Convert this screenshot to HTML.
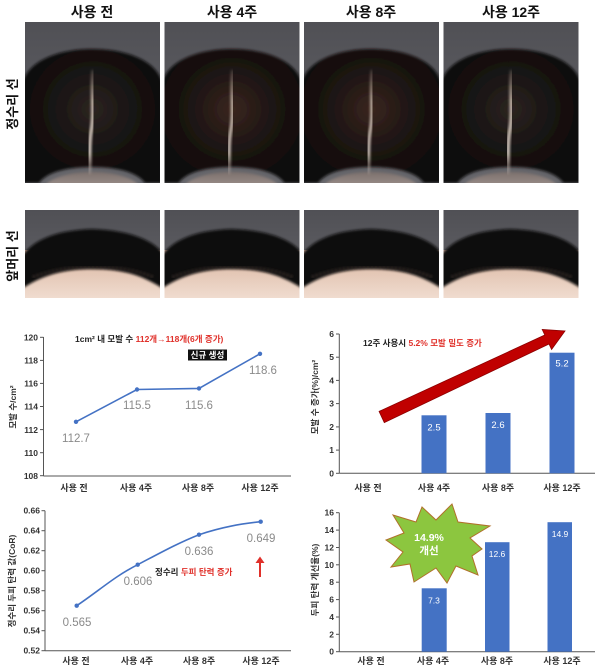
<!DOCTYPE html>
<html><head><meta charset="utf-8">
<style>
html,body{margin:0;padding:0;background:#fff;}
svg{display:block;font-family:"Liberation Sans","Noto Sans CJK KR",sans-serif;}
.t{font-weight:bold;font-size:14px;fill:#111;}
.rl{font-weight:bold;font-size:13px;fill:#111;}
.tk{font-weight:bold;font-size:8.5px;fill:#333;}
.cat{font-weight:bold;font-size:9px;fill:#333;}
.dl{font-size:11.5px;fill:#8a8a8a;}
.bl{font-size:9.5px;fill:#fff;}
.an{font-weight:bold;font-size:8.5px;}
.yt{font-weight:bold;font-size:8.5px;fill:#333;}
</style></head><body>
<svg width="600" height="669" viewBox="0 0 600 669" xmlns="http://www.w3.org/2000/svg">
<defs>
  <linearGradient id="bg" x1="0" y1="0" x2="0" y2="1">
    <stop offset="0" stop-color="#505055"/><stop offset="1" stop-color="#66666b"/>
  </linearGradient>
  <radialGradient id="hairA" cx="0.5" cy="0.45" r="0.6">
    <stop offset="0" stop-color="#2c2421"/><stop offset="0.5" stop-color="#171312"/><stop offset="1" stop-color="#0c0b0b"/>
  </radialGradient>
  <radialGradient id="hairB" cx="0.5" cy="0.45" r="0.6">
    <stop offset="0" stop-color="#3a261f"/><stop offset="0.5" stop-color="#1c1412"/><stop offset="1" stop-color="#0d0b0a"/>
  </radialGradient>
  <linearGradient id="part" x1="0" y1="0" x2="0" y2="1">
    <stop offset="0" stop-color="#cdb8a8" stop-opacity="0.2"/>
    <stop offset="0.3" stop-color="#e0d0c2" stop-opacity="0.85"/>
    <stop offset="0.8" stop-color="#ece0d6" stop-opacity="0.9"/>
    <stop offset="1" stop-color="#d8c8bc" stop-opacity="0.2"/>
  </linearGradient>
  <linearGradient id="skin" x1="0" y1="0" x2="0" y2="1">
    <stop offset="0" stop-color="#b99888"/><stop offset="0.4" stop-color="#e2c4b2"/><stop offset="1" stop-color="#f0dccf"/>
  </linearGradient>
  <linearGradient id="neck" x1="0" y1="0" x2="0" y2="1">
    <stop offset="0" stop-color="#7c706c"/><stop offset="1" stop-color="#cfc3bf"/>
  </linearGradient>
  <filter id="bl1"><feGaussianBlur stdDeviation="1.2"/></filter>
  <clipPath id="c1"><rect x="0" y="0" width="135" height="161"/></clipPath>
  <clipPath id="c2"><rect x="0" y="0" width="135" height="88"/></clipPath>
  <g id="topPhotoA">
    <g clip-path="url(#c1)">
      <rect x="0" y="0" width="135" height="161" fill="url(#bg)"/>
      <ellipse cx="67" cy="170" rx="50" ry="20" fill="url(#neck)" filter="url(#bl1)"/>
      <path d="M-2,161 L-2,60 C4,38 35,27 67,27 C100,27 131,38 137,60 L137,161 L120,161 C112,150 92,145 67,145 C42,145 22,150 14,161 Z" fill="url(#hairA)" filter="url(#bl1)"/>
      <path d="M68,48 C66,70 70,90 66,110 C63,128 66,140 64,152" stroke="url(#part)" stroke-width="3.5" fill="none" filter="url(#bl1)"/>
    </g>
  </g>
  <g id="topPhotoB">
    <g clip-path="url(#c1)">
      <rect x="0" y="0" width="135" height="161" fill="url(#bg)"/>
      <ellipse cx="67" cy="170" rx="50" ry="20" fill="url(#neck)" filter="url(#bl1)"/>
      <path d="M-2,161 L-2,60 C4,38 35,27 67,27 C100,27 131,38 137,60 L137,161 L120,161 C112,150 92,145 67,145 C42,145 22,150 14,161 Z" fill="url(#hairB)" filter="url(#bl1)"/>
      <path d="M68,48 C66,70 70,90 66,110 C63,128 66,140 64,152" stroke="url(#part)" stroke-width="3" fill="none" filter="url(#bl1)"/>
    </g>
  </g>
  <g id="botPhoto">
    <g clip-path="url(#c2)">
      <rect x="0" y="0" width="135" height="88" fill="url(#bg)"/>
      <rect x="0" y="40" width="135" height="48" fill="url(#skin)"/>
      <path d="M-2,45 C10,28 35,20 67,19 C100,20 125,28 137,42 L137,78 C115,64 95,59 67,59 C40,59 20,64 -2,78 Z" fill="#100e0e" filter="url(#bl1)"/>
      <path d="M8,67 C30,59 50,57 67,57 C88,57 108,59 128,67" stroke="#3a2e2a" stroke-width="3" fill="none" stroke-dasharray="2 2" filter="url(#bl1)"/>
    </g>
  </g>
</defs>

<!-- Column titles -->
<text class="t" x="92" y="17" text-anchor="middle">사용 전</text>
<text class="t" x="232" y="17" text-anchor="middle">사용 4주</text>
<text class="t" x="371" y="17" text-anchor="middle">사용 8주</text>
<text class="t" x="511" y="17" text-anchor="middle">사용 12주</text>

<!-- Row labels -->
<text class="rl" transform="translate(17,104) rotate(-90)" text-anchor="middle">정수리 선</text>
<text class="rl" transform="translate(17,256) rotate(-90)" text-anchor="middle">앞머리 선</text>

<!-- Top photos -->
<use href="#topPhotoA" x="25" y="22"/>
<use href="#topPhotoB" x="164.5" y="22"/>
<use href="#topPhotoB" x="304" y="22"/>
<use href="#topPhotoA" x="443.5" y="22"/>
<!-- Bottom photos -->
<use href="#botPhoto" x="25" y="210"/>
<use href="#botPhoto" x="164.5" y="210"/>
<use href="#botPhoto" x="304" y="210"/>
<use href="#botPhoto" x="443.5" y="210"/>

<!-- ========== Chart 1 ========== -->
<g stroke="#555" stroke-width="1">
  <line x1="43.5" y1="337" x2="43.5" y2="476"/>
  <line x1="43.5" y1="476" x2="291" y2="476"/>
  <line x1="40" y1="337.3" x2="43.5" y2="337.3"/>
  <line x1="40" y1="360.4" x2="43.5" y2="360.4"/>
  <line x1="40" y1="383.4" x2="43.5" y2="383.4"/>
  <line x1="40" y1="406.5" x2="43.5" y2="406.5"/>
  <line x1="40" y1="429.6" x2="43.5" y2="429.6"/>
  <line x1="40" y1="452.7" x2="43.5" y2="452.7"/>
  <line x1="40" y1="475.7" x2="43.5" y2="475.7"/>
</g>
<g class="tk" text-anchor="end">
  <text x="38" y="340.5">120</text>
  <text x="38" y="363.6">118</text>
  <text x="38" y="386.6">116</text>
  <text x="38" y="409.7">114</text>
  <text x="38" y="432.8">112</text>
  <text x="38" y="455.9">110</text>
  <text x="38" y="478.9">108</text>
</g>
<text class="yt" transform="translate(16,407) rotate(-90)" text-anchor="middle">모발 수/cm²</text>
<polyline points="76,421.8 137,389.5 199,388.4 260,353.8" fill="none" stroke="#4472c4" stroke-width="1.6"/>
<g fill="#4472c4">
  <circle cx="76" cy="421.8" r="2.2"/><circle cx="137" cy="389.5" r="2.2"/>
  <circle cx="199" cy="388.4" r="2.2"/><circle cx="260" cy="353.8" r="2.2"/>
</g>
<g class="dl" text-anchor="middle">
  <text x="76" y="442">112.7</text>
  <text x="137" y="409">115.5</text>
  <text x="199" y="409">115.6</text>
  <text x="263" y="374">118.6</text>
</g>
<text class="an" x="75" y="342"><tspan fill="#222">1cm² 내 모발 수 </tspan><tspan fill="#e0302a">112개→118개(6개 증가)</tspan></text>
<rect x="188" y="349.5" width="39" height="11" fill="#111"/>
<text class="an" x="207.5" y="358" fill="#fff" text-anchor="middle">신규 생성</text>
<g class="cat" text-anchor="middle">
  <text x="74" y="491">사용 전</text>
  <text x="136" y="491">사용 4주</text>
  <text x="198" y="491">사용 8주</text>
  <text x="260" y="491">사용 12주</text>
</g>

<!-- ========== Chart 2 ========== -->
<g stroke="#555" stroke-width="1">
  <line x1="339.3" y1="334" x2="339.3" y2="473.3"/>
  <line x1="339.3" y1="473.3" x2="595" y2="473.3"/>
  <line x1="336" y1="334" x2="339.3" y2="334"/>
  <line x1="336" y1="357.2" x2="339.3" y2="357.2"/>
  <line x1="336" y1="380.4" x2="339.3" y2="380.4"/>
  <line x1="336" y1="403.6" x2="339.3" y2="403.6"/>
  <line x1="336" y1="426.9" x2="339.3" y2="426.9"/>
  <line x1="336" y1="450.1" x2="339.3" y2="450.1"/>
  <line x1="336" y1="473.3" x2="339.3" y2="473.3"/>
</g>
<g class="tk" text-anchor="end">
  <text x="334" y="337">6</text>
  <text x="334" y="360.2">5</text>
  <text x="334" y="383.4">4</text>
  <text x="334" y="406.6">3</text>
  <text x="334" y="429.9">2</text>
  <text x="334" y="453.1">1</text>
  <text x="334" y="476.3">0</text>
</g>
<text class="yt" transform="translate(318,397) rotate(-90)" text-anchor="middle">모발 수 증가(%)/cm²</text>
<g fill="#4472c4">
  <rect x="421.5" y="415.3" width="25" height="58"/>
  <rect x="485.5" y="413" width="25" height="60.3"/>
  <rect x="549.5" y="352.7" width="25" height="120.6"/>
</g>
<g class="bl" text-anchor="middle">
  <text x="434" y="430.5">2.5</text>
  <text x="498" y="428">2.6</text>
  <text x="562" y="366.5">5.2</text>
</g>
<polygon points="379.1,411.4 544.8,335 542.2,329.5 565,331 551.6,349.5 549,344 384.3,422.6" fill="#c00000" stroke="#8b0000" stroke-width="0.8"/>
<text class="an" x="363" y="346"><tspan fill="#222">12주 사용시 </tspan><tspan fill="#e0302a">5.2% 모발 밀도 증가</tspan></text>
<g class="cat" text-anchor="middle">
  <text x="368" y="491">사용 전</text>
  <text x="434" y="491">사용 4주</text>
  <text x="498" y="491">사용 8주</text>
  <text x="562" y="491">사용 12주</text>
</g>

<!-- ========== Chart 3 ========== -->
<g stroke="#555" stroke-width="1">
  <line x1="45" y1="510.7" x2="45" y2="650.7"/>
  <line x1="45" y1="650.7" x2="291" y2="650.7"/>
  <line x1="41.5" y1="510.7" x2="45" y2="510.7"/>
  <line x1="41.5" y1="530.7" x2="45" y2="530.7"/>
  <line x1="41.5" y1="550.7" x2="45" y2="550.7"/>
  <line x1="41.5" y1="570.7" x2="45" y2="570.7"/>
  <line x1="41.5" y1="590.7" x2="45" y2="590.7"/>
  <line x1="41.5" y1="610.7" x2="45" y2="610.7"/>
  <line x1="41.5" y1="630.7" x2="45" y2="630.7"/>
  <line x1="41.5" y1="650.7" x2="45" y2="650.7"/>
</g>
<g class="tk" text-anchor="end">
  <text x="40" y="513.7">0.66</text>
  <text x="40" y="533.7">0.64</text>
  <text x="40" y="553.7">0.62</text>
  <text x="40" y="573.7">0.60</text>
  <text x="40" y="593.7">0.58</text>
  <text x="40" y="613.7">0.56</text>
  <text x="40" y="633.7">0.54</text>
  <text x="40" y="653.7">0.52</text>
</g>
<text class="yt" transform="translate(15,581) rotate(-90)" text-anchor="middle">정수리 두피 탄력 값(CoR)</text>
<path d="M76.7,605.7 C100,590 115,576 137.7,564.7 C160,553 178,543 199,534.7 C222,527 240,524 260.7,521.7" fill="none" stroke="#4472c4" stroke-width="1.6"/>
<g fill="#4472c4">
  <circle cx="76.7" cy="605.7" r="2.2"/><circle cx="137.7" cy="564.7" r="2.2"/>
  <circle cx="199" cy="534.7" r="2.2"/><circle cx="260.7" cy="521.7" r="2.2"/>
</g>
<g class="dl" text-anchor="middle">
  <text x="77" y="626">0.565</text>
  <text x="138" y="585">0.606</text>
  <text x="199" y="555">0.636</text>
  <text x="261" y="542">0.649</text>
</g>
<text class="an" x="155" y="575"><tspan fill="#222">정수리 </tspan><tspan fill="#e0302a">두피 탄력 증가</tspan></text>
<line x1="260" y1="577" x2="260" y2="562" stroke="#e0302a" stroke-width="2"/>
<polygon points="255.5,563 260,556.5 264.5,563" fill="#e0302a"/>
<g class="cat" text-anchor="middle">
  <text x="76" y="664">사용 전</text>
  <text x="137" y="664">사용 4주</text>
  <text x="199" y="664">사용 8주</text>
  <text x="261" y="664">사용 12주</text>
</g>

<!-- ========== Chart 4 ========== -->
<g stroke="#555" stroke-width="1">
  <line x1="339.3" y1="512.7" x2="339.3" y2="651.7"/>
  <line x1="339.3" y1="651.7" x2="595" y2="651.7"/>
  <line x1="336" y1="512.7" x2="339.3" y2="512.7"/>
  <line x1="336" y1="530.1" x2="339.3" y2="530.1"/>
  <line x1="336" y1="547.5" x2="339.3" y2="547.5"/>
  <line x1="336" y1="564.8" x2="339.3" y2="564.8"/>
  <line x1="336" y1="582.2" x2="339.3" y2="582.2"/>
  <line x1="336" y1="599.6" x2="339.3" y2="599.6"/>
  <line x1="336" y1="617" x2="339.3" y2="617"/>
  <line x1="336" y1="634.3" x2="339.3" y2="634.3"/>
  <line x1="336" y1="651.7" x2="339.3" y2="651.7"/>
</g>
<g class="tk" text-anchor="end">
  <text x="334" y="515.7">16</text>
  <text x="334" y="533.1">14</text>
  <text x="334" y="550.5">12</text>
  <text x="334" y="567.8">10</text>
  <text x="334" y="585.2">8</text>
  <text x="334" y="602.6">6</text>
  <text x="334" y="620">4</text>
  <text x="334" y="637.3">2</text>
  <text x="334" y="654.7">0</text>
</g>
<text class="yt" transform="translate(318,580) rotate(-90)" text-anchor="middle">두피 탄력 개선율(%)</text>
<g fill="#4472c4">
  <rect x="421.7" y="588.3" width="25" height="63.4"/>
  <rect x="485" y="542.2" width="24.5" height="109.5"/>
  <rect x="547.5" y="522.2" width="24.5" height="129.5"/>
</g>
<g class="bl" text-anchor="middle" style="font-size:8.5px">
  <text x="434" y="603.5">7.3</text>
  <text x="497" y="557">12.6</text>
  <text x="560" y="537">14.9</text>
</g>
<polygon points="452,504 458,522 490,526 470,538 482,549 472,556 478,575 456,566 447,583 436,568 414,582 410,564 391,567 403,552 386,540 404,533 393,515 416,522 422,507 436,520" fill="#8cc63f" stroke="#b0702a" stroke-width="1"/>
<text x="429" y="541" text-anchor="middle" style="font-weight:bold;font-size:10.5px;fill:#fff">14.9%</text>
<text x="429" y="554" text-anchor="middle" style="font-weight:bold;font-size:10.5px;fill:#fff">개선</text>
<g class="cat" text-anchor="middle">
  <text x="371" y="664">사용 전</text>
  <text x="433" y="664">사용 4주</text>
  <text x="497" y="664">사용 8주</text>
  <text x="562" y="664">사용 12주</text>
</g>
</svg>
</body></html>
